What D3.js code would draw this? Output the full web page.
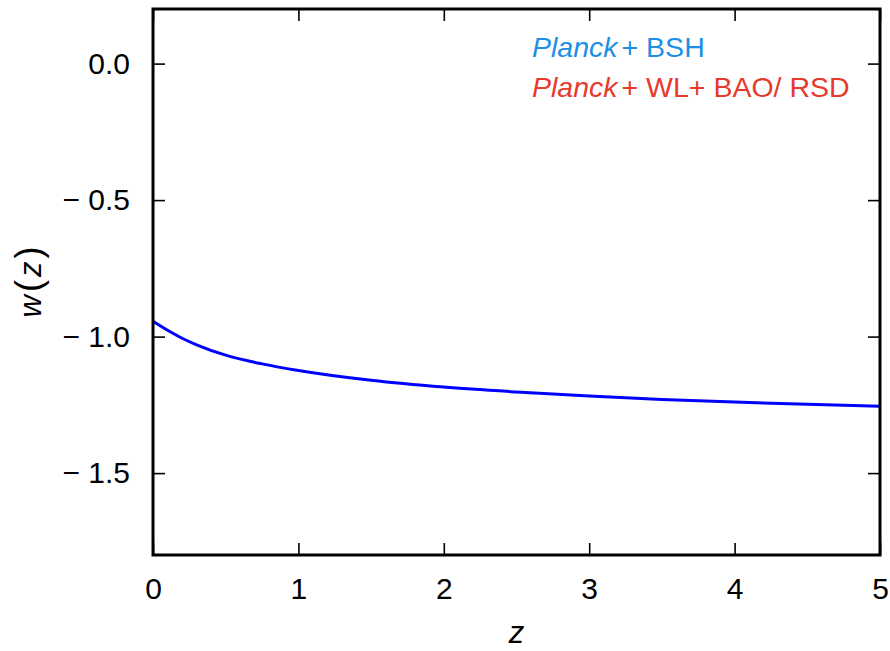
<!DOCTYPE html>
<html lang="en">
<head>
<meta charset="utf-8">
<script src="https://d3js.org/d3.v7.min.js"></script>
<style>
  body { margin: 0; background: #fff; }
  text { font-family: "Liberation Sans", Arial, sans-serif; }
</style>
</head>
<body>
<div id="chart"></div>
<script>
// w(z) curve
var zVals = [0, 0.1, 0.2, 0.3, 0.5, 0.75, 1, 1.5, 2, 2.5, 3, 3.5, 4, 4.5, 5];
var wVals = [-0.944, -0.977, -1.006, -1.030, -1.068, -1.100, -1.124, -1.160, -1.185, -1.203, -1.218, -1.230, -1.240, -1.248, -1.255];

var xTicks = [0, 1, 2, 3, 4, 5];
var yTicks = [0.0, -0.5, -1.0, -1.5];

var legendItems = [
  {italic: "Planck", rest: "+ BSH", color: "#1e8fe6"},
  {italic: "Planck", rest: "+ WL+ BAO/ RSD", color: "#e63a2b"}
];

var W = 890, H = 651;
var margin = {top: 9, right: 10, bottom: 96, left: 153};
var width = W - margin.left - margin.right,
    height = H - margin.top - margin.bottom;

var svg = d3.select("#chart").append("svg")
  .attr("width", W)
  .attr("height", H)
  .append("g")
  .attr("transform", "translate(" + margin.left + "," + margin.top + ")");

var x = d3.scaleLinear().domain([0, 5]).range([0, width]);
var y = d3.scaleLinear().domain([-1.8, 0.2]).range([height, 0]);

var fmtY = function(d) {
  var s = Math.abs(d).toFixed(1);
  return d < 0 ? "\u2212 " + s : s;
};

// axes with inward ticks on all four sides
var tk = 12;
svg.append("g")
  .attr("transform", "translate(0," + height + ")")
  .call(d3.axisBottom(x).tickValues(xTicks).tickSize(-tk).tickPadding(23).tickFormat(d3.format("d")));
svg.append("g")
  .call(d3.axisTop(x).tickValues(xTicks).tickSize(-tk).tickFormat(""));
svg.append("g")
  .call(d3.axisLeft(y).tickValues(yTicks).tickSize(-tk).tickPadding(23).tickFormat(fmtY));
svg.append("g")
  .attr("transform", "translate(" + width + ",0)")
  .call(d3.axisRight(y).tickValues(yTicks).tickSize(-tk).tickFormat(""));

svg.selectAll(".domain").remove();
svg.selectAll(".tick line").attr("stroke", "#000").attr("stroke-width", 1.6);
svg.selectAll(".tick text")
  .attr("fill", "#000")
  .style("font-size", "30px");

// the line
var line = d3.line()
  .x(function(d, i) { return x(zVals[i]); })
  .y(function(d) { return y(d); })
  .curve(d3.curveMonotoneX);

svg.append("path")
  .datum(wVals)
  .attr("d", line)
  .attr("fill", "none")
  .attr("stroke", "#0000ff")
  .attr("stroke-width", 3);

// frame
svg.append("rect")
  .attr("x", 0).attr("y", 0)
  .attr("width", width).attr("height", height)
  .attr("fill", "none")
  .attr("stroke", "#000")
  .attr("stroke-width", 3);

// legend
var leg = svg.selectAll(".leg")
  .data(legendItems)
  .enter().append("text")
  .attr("class", "leg")
  .attr("x", 379)
  .attr("y", function(d, i) { return 48 + i * 40; })
  .attr("fill", function(d) { return d.color; })
  .style("font-size", "28.5px");
leg.append("tspan").style("font-style", "italic").text(function(d) { return d.italic; });
leg.append("tspan").attr("dx", 4).text(function(d) { return d.rest; });

// axis labels
svg.append("text")
  .attr("x", x(2.5))
  .attr("y", height + 88)
  .attr("text-anchor", "middle")
  .style("font-size", "31px")
  .style("font-style", "italic")
  .text("z");

var yl = svg.append("text")
  .attr("transform", "translate(" + (-112) + "," + y(-0.8) + ") rotate(-90)")
  .attr("text-anchor", "middle")
  .style("font-size", "31px");
yl.append("tspan").style("font-style", "italic").text("w");
yl.append("tspan").attr("dx", 3).style("font-size", "36px").text("(");
yl.append("tspan").attr("dx", 3).style("font-style", "italic").text("z");
yl.append("tspan").attr("dx", 3).style("font-size", "36px").text(")");
</script>
</body>
</html>
